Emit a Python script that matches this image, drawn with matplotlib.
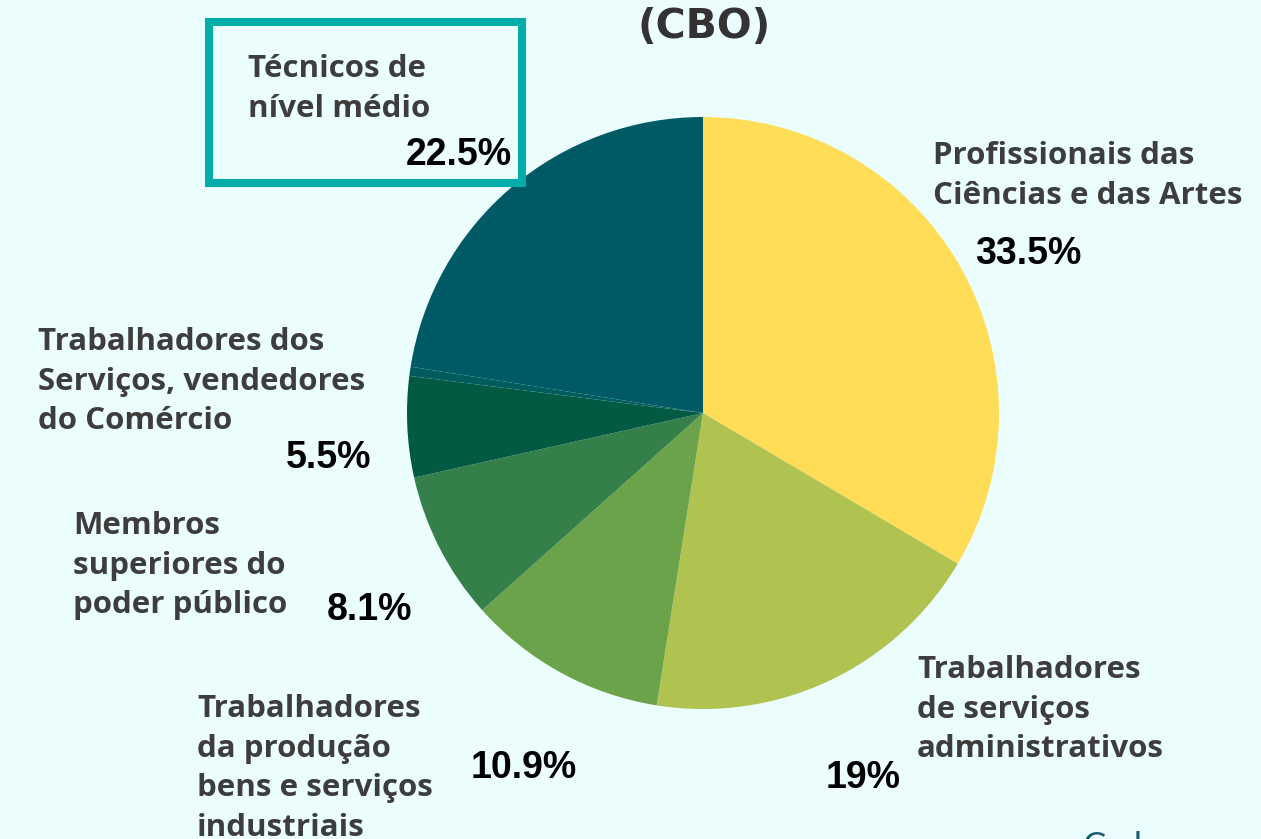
import matplotlib.pyplot as plt
from matplotlib.patches import Rectangle

# data (clockwise from 12 o'clock)
categories = [
    "Profissionais das\nCiências e das Artes",
    "Trabalhadores\nde serviços\nadministrativos",
    "Trabalhadores\nda produção\nbens e serviços\nindustriais",
    "Membros\nsuperiores do\npoder público",
    "Trabalhadores dos\nServiços, vendedores\ndo Comércio",
    "Outros",
    "Técnicos de\nnível médio",
]
values = [33.5, 19, 10.9, 8.1, 5.5, 0.5, 22.5]
pct_labels = ["33.5%", "19%", "10.9%", "8.1%", "5.5%", "", "22.5%"]
colors = ["#FFDD57", "#B0C24F", "#6BA34A", "#357F4A", "#025A42", "#005C5C", "#005A66"]

W, H = 1261, 839
BG = "#EBFDFD"

fig = plt.figure(figsize=(W / 100, H / 100), dpi=100, facecolor=BG)

# pie centre (703, 413), radius 296 px
cx, cy, r = 703, 413, 296
ax = fig.add_axes([(cx - r) / W, (H - cy - r) / H, 2 * r / W, 2 * r / H])
ax.set_facecolor(BG)
ax.pie(values, colors=colors, startangle=90, counterclock=False, radius=1,
       wedgeprops=dict(linewidth=0))
ax.set_xlim(-1, 1)
ax.set_ylim(-1, 1)
ax.set_aspect("equal")
ax.axis("off")


def px(x, y):
    return x / W, 1 - y / H


label_font = dict(family=["Open Sans", "DejaVu Sans"], fontweight="bold", fontsize=22.5,
                  color="#3D3D3D", linespacing=1.42)
pct_font = dict(family=["Liberation Sans", "DejaVu Sans"], fontweight="bold",
                fontsize=27, color="#000000")

# label positions: (left x, top y) of each text block, in pixels
label_pos = [(933, 141), (917, 655), (197, 694), (73, 511), (38, 327), None, (248, 54)]
pct_pos = [(1028, 254), (863, 778), (524, 768), (370, 610), (329, 458), None, (512, 155)]

for i, cat in enumerate(categories):
    if label_pos[i] is not None:
        fig.text(*px(*label_pos[i]), cat, ha="left", va="top", **label_font)
    if pct_pos[i] is not None:
        ha = "right" if i == 6 else "center"
        fig.text(*px(*pct_pos[i]), pct_labels[i], ha=ha, va="center", **pct_font)

# highlight box around "Técnicos de nível médio"
fig.patches.append(Rectangle(px(209, 183), (522 - 209) / W, (183 - 22) / H,
                             transform=fig.transFigure, fill=False,
                             edgecolor="#00ADA8", linewidth=5.8))

fig.text(*px(704, 27), "(CBO)", ha="center", va="center",
         family=["DejaVu Sans"], fontweight="bold", fontsize=29.5, color="#333333")

fig.text(*px(1082, 857), "Caderno", ha="left", va="baseline",
         family=["Lato", "DejaVu Sans"], fontweight="normal", fontsize=25, color="#1A5C6E")

fig.savefig("out.png", dpi=100, facecolor=BG)
